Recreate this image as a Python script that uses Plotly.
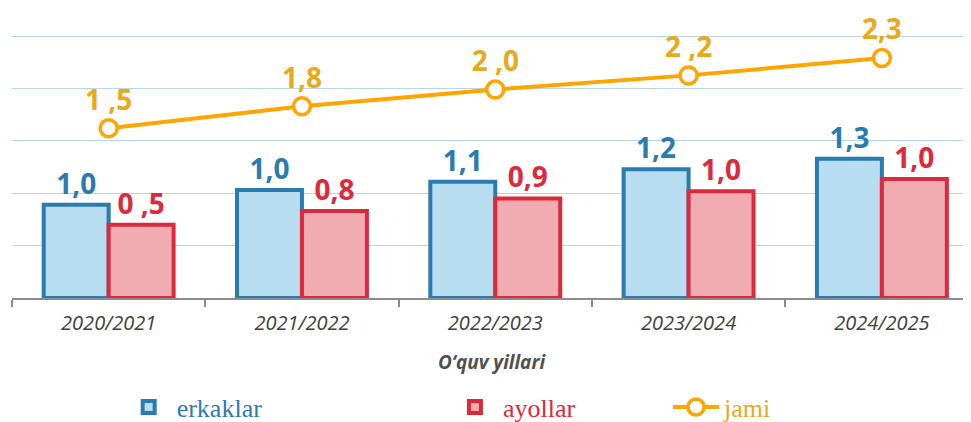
import plotly.graph_objects as go

categories = ["2020/2021", "2021/2022", "2022/2023", "2023/2024", "2024/2025"]
erkaklar_values = [0.89, 1.03, 1.11, 1.23, 1.33]
ayollar_values = [0.70, 0.83, 0.95, 1.02, 1.135]
jami_values = [1.62, 1.83, 1.99, 2.125, 2.29]
erkaklar_labels = ["1,0", "1,0", "1,1", "1,2", "1,3"]
ayollar_labels = ["0 ,5", "0,8", "0,9", "1,0", "1,0"]
jami_labels = ["1 ,5", "1,8", "2 ,0", "2 ,2", "2,3"]

BLUE_LINE = "#2a7cb0"
BLUE_FILL = "#b8dcf0"
RED_LINE = "#dc2a3c"
RED_FILL = "#f1acb2"
ORANGE = "#ffa500"
GOLD = "#e8aa1a"

label_font = "Open Sans"

fig = go.Figure()
fig.add_trace(go.Bar(
    x=categories, y=erkaklar_values, name="erkaklar",
    marker=dict(color=BLUE_FILL, line=dict(color=BLUE_LINE, width=4)),
    text=erkaklar_labels, textposition="outside", cliponaxis=False,
    textfont=dict(family=label_font, size=28, color=BLUE_LINE, weight="bold"),
    legend="legend",
))
fig.add_trace(go.Bar(
    x=categories, y=ayollar_values, name="ayollar",
    marker=dict(color=RED_FILL, line=dict(color=RED_LINE, width=4)),
    text=ayollar_labels, textposition="outside", cliponaxis=False,
    textfont=dict(family=label_font, size=28, color=RED_LINE, weight="bold"),
    legend="legend2",
))
fig.add_trace(go.Scatter(
    x=categories, y=jami_values, name="jami", mode="lines+markers+text",
    line=dict(color=ORANGE, width=4),
    marker=dict(size=17, color="white", line=dict(color=ORANGE, width=3.5)),
    text=jami_labels, textposition="top center", cliponaxis=False,
    textfont=dict(family=label_font, size=28, color=GOLD, weight="bold"),
    legend="legend3",
))

legend_common = dict(orientation="h", yref="container", xref="container",
                     yanchor="middle", y=0.036, xanchor="left",
                     bgcolor="rgba(0,0,0,0)", itemwidth=46)

fig.update_layout(
    width=963, height=414,
    margin=dict(l=4, r=0, t=26, b=124, autoexpand=False),
    paper_bgcolor="white", plot_bgcolor="white",
    barmode="group", bargap=0.328, bargroupgap=0,
    showlegend=True,
    legend=dict(**legend_common, x=0.117,
                font=dict(family="Liberation Serif", size=26, color=BLUE_LINE)),
    legend2=dict(**legend_common, x=0.4558,
                 font=dict(family="Liberation Serif", size=26, color=RED_LINE)),
    legend3=dict(**legend_common, x=0.6854,
                 font=dict(family="Liberation Serif", size=26, color=GOLD)),
    xaxis=dict(
        range=[-0.5, 4.461], showgrid=False, automargin=False,
        showline=True, linecolor="#8c8c8c", linewidth=1.5,
        ticks="outside", tickson="boundaries", ticklen=7, tickcolor="#8c8c8c", tickwidth=1.5,
        tickfont=dict(family=label_font, size=20, color="#404040", style="italic"),
        ticklabelstandoff=6,
        title=dict(text="O‘quv yillari", standoff=21,
                   font=dict(family=label_font, size=19, color="#505050",
                             style="italic", weight="bold")),
    ),
    yaxis=dict(
        range=[0, 2.52], dtick=0.5, showgrid=True, gridcolor="#b9d4f4", gridwidth=1,
        zeroline=False, showticklabels=False, ticks="", automargin=False,
    ),
)

fig.write_html("out.html")
